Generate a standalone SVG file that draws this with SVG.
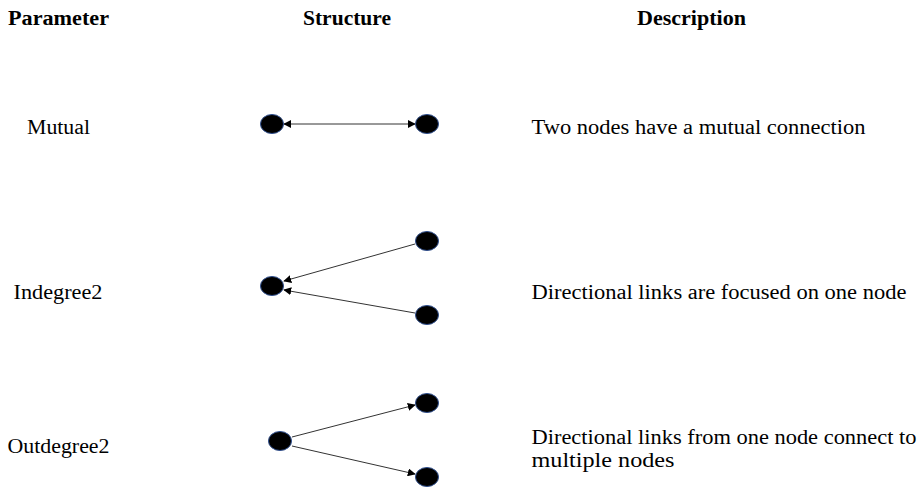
<svg xmlns="http://www.w3.org/2000/svg" width="919" height="487" viewBox="0 0 919 487">
<style>
.h{font-family:"Liberation Serif","Times New Roman",serif;font-weight:bold;font-size:20px;fill:#000}
.t{font-family:"Liberation Serif","Times New Roman",serif;font-size:20px;fill:#000}
.n{fill:#000;stroke:#2f4f8f;stroke-width:1}
.e{stroke:#333;stroke-width:1;fill:none}
</style>
<defs>
<marker id="ah" viewBox="0 0 10 10" refX="9" refY="5" markerWidth="8" markerHeight="8" orient="auto-start-reverse" markerUnits="userSpaceOnUse">
<path d="M0,0 L10,5 L0,10 z" fill="#000"/>
</marker>
</defs>
<rect width="919" height="487" fill="#fff"/>
<g id="headers">
<text class="h" x="8" y="25" textLength="101" lengthAdjust="spacingAndGlyphs">Parameter</text>
<text class="h" x="303" y="25" textLength="88" lengthAdjust="spacingAndGlyphs">Structure</text>
<text class="h" x="637" y="25" textLength="109" lengthAdjust="spacingAndGlyphs">Description</text>
</g>
<g id="labels">
<text class="t" x="27" y="134" textLength="63" lengthAdjust="spacingAndGlyphs">Mutual</text>
<text class="t" x="13.5" y="299" textLength="89" lengthAdjust="spacingAndGlyphs">Indegree2</text>
<text class="t" x="7.5" y="453" textLength="102" lengthAdjust="spacingAndGlyphs">Outdegree2</text>
<text class="t" x="531.5" y="134" textLength="334" lengthAdjust="spacingAndGlyphs">Two nodes have a mutual connection</text>
<text class="t" x="531.5" y="299" textLength="375" lengthAdjust="spacingAndGlyphs">Directional links are focused on one node</text>
<text class="t" x="531.5" y="444" textLength="385" lengthAdjust="spacingAndGlyphs">Directional links from one node connect to</text>
<text class="t" x="531.5" y="467" textLength="143" lengthAdjust="spacingAndGlyphs">multiple nodes</text>
</g>
<g id="connectors">
<line class="e" x1="284" y1="124" x2="415" y2="124" marker-start="url(#ah)" marker-end="url(#ah)"/>
<line class="e" x1="415" y1="244" x2="284" y2="281" marker-end="url(#ah)"/>
<line class="e" x1="415" y1="313" x2="284" y2="290" marker-end="url(#ah)"/>
<line class="e" x1="292" y1="437" x2="415" y2="405" marker-end="url(#ah)"/>
<line class="e" x1="292" y1="446" x2="415" y2="474" marker-end="url(#ah)"/>
</g>
<g id="node-m1"><ellipse class="n" cx="272" cy="124" rx="11.5" ry="9.5"/></g>
<g id="node-m2"><ellipse class="n" cx="427" cy="124" rx="11.5" ry="9.5"/></g>
<g id="node-i1"><ellipse class="n" cx="272" cy="286" rx="11.5" ry="9.5"/></g>
<g id="node-i2"><ellipse class="n" cx="427" cy="241" rx="11.5" ry="9.5"/></g>
<g id="node-i3"><ellipse class="n" cx="427" cy="315" rx="11.5" ry="9.5"/></g>
<g id="node-o1"><ellipse class="n" cx="280" cy="441" rx="11.5" ry="9.5"/></g>
<g id="node-o2"><ellipse class="n" cx="427" cy="403" rx="11.5" ry="9.5"/></g>
<g id="node-o3"><ellipse class="n" cx="427" cy="477" rx="11.5" ry="9.5"/></g>
</svg>
